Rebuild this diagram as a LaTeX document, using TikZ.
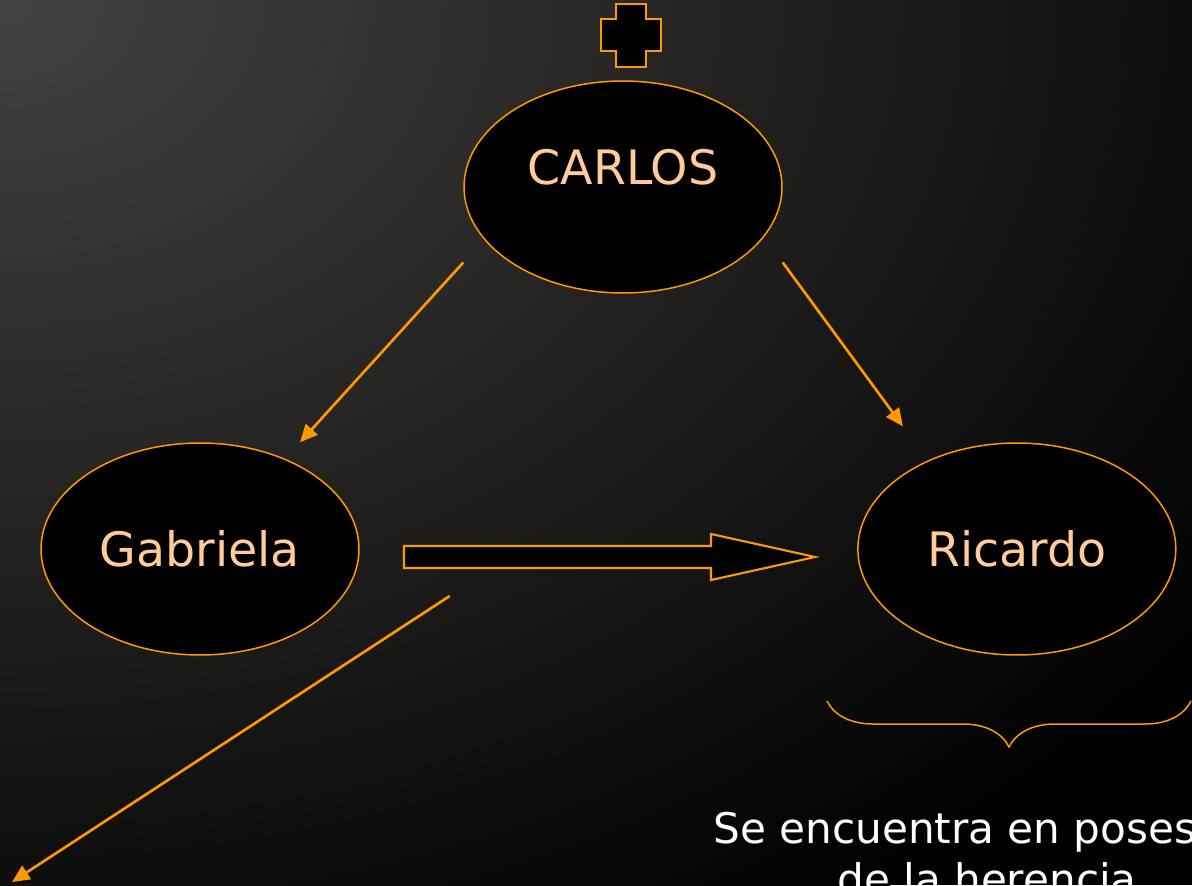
\documentclass[tikz,border=0pt]{standalone}
\usepackage{fontspec}
\setmainfont{DejaVu Sans}
\usetikzlibrary{shapes.geometric, arrows.meta, decorations.pathreplacing}
\definecolor{naranja}{RGB}{255,153,0}
\definecolor{durazno}{RGB}{255,204,153}
\definecolor{fondo}{RGB}{68,66,64}
\tikzstyle{flecha} = [naranja, line width=1.5pt, -{Triangle[length=10pt,width=9pt]}]
\tikzstyle{persona} = [ellipse,
                       draw=naranja,
                       line width=0.85pt,
                       fill=black,
                       minimum width=6.36cm,
                       minimum height=4.24cm,
                       text=durazno,
                       font=\fontsize{27}{0}\selectfont]
\tikzstyle{bloque} = [draw=naranja, line width=1.2pt, fill=black]
\tikzstyle{llave} = [draw=naranja, line width=0.85pt, decorate,
                     decoration={brace, mirror, amplitude=0.92cm}]
\begin{document}
\begin{tikzpicture}[x=0.02cm, y=-0.02cm]
        \clip (0,0) rectangle (1192,885);
        \fill [black] (0,0) rectangle (1192,885);
        \shade [inner color=fondo, outer color=black] (0,0) ellipse (1500 and 1100);

        \node (Carlos) [persona, text depth=0.8cm] at (623,187) {CARLOS};
        \node (Gabriela) [persona] at (200,549) {Gabriela};
        \node (Ricardo) [persona, right of=Gabriela, node distance=16.34cm] {Ricardo};

        % cruz sobre Carlos
        \draw [bloque] (616,4) -- (646,4) -- (646,19) -- (661,19) -- (661,51) -- (646,51)
              -- (646,67) -- (616,67) -- (616,51) -- (601,51) -- (601,19) -- (616,19) -- cycle;

        % flecha gruesa
        \draw [bloque] (404,546) -- (711,546) -- (711,534) -- (815,557) -- (711,580)
              -- (711,568) -- (404,568) -- cycle;

        \draw [llave] (827,701) -- (1191,701);
        \node (Herencia) [text=white, align=center, anchor=base,
              font=\fontsize{24}{29}\selectfont] at (987,894) {Se encuentra en posesión\\de la herencia};

        \coordinate (Salida) at (12,882);
        \draw [flecha] (Carlos.west |- Carlos.south west) -- ([xshift=2cm]Gabriela.north);
        \draw [flecha] (Carlos.east |- Carlos.south east) -- ([xshift=-2.28cm,yshift=0.32cm]Ricardo.north);
        \draw [flecha] ([xshift=1.8cm,yshift=-0.94cm]Gabriela.east) -- (Salida);
\end{tikzpicture}
\end{document}
